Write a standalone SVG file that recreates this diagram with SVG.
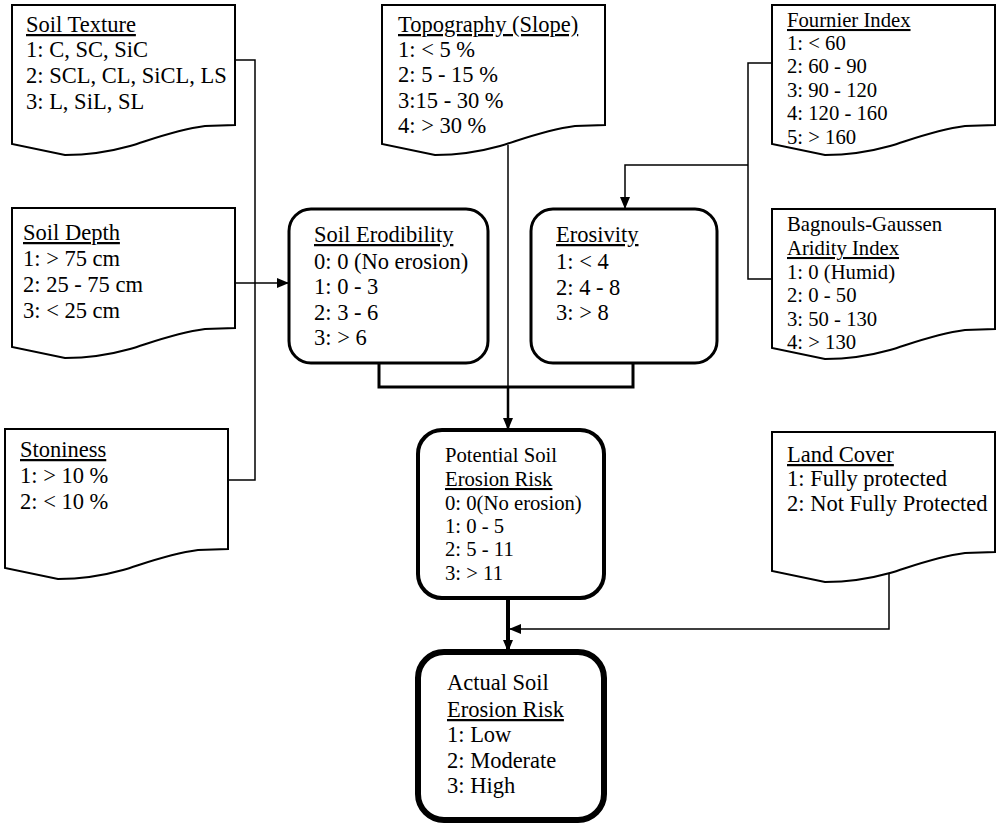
<svg xmlns="http://www.w3.org/2000/svg" xmlns:xlink="http://www.w3.org/1999/xlink" width="1000" height="827" viewBox="0 0 1000 827">
<defs>
<style>
text{font-family:"Liberation Serif","Times New Roman",serif;fill:#000}
.t21{font-size:22.5px}
.t20{font-size:20.7px}
.u{text-decoration:underline}
.doc{fill:#fff;stroke:#000;stroke-width:2}
.box{fill:#fff;stroke:#000}
.c{fill:none;stroke:#000;stroke-width:1.5}
</style>
<path id="doc" d="M0,0 H223 V120 L193,121 C163,125 138,135 118,141 C93,148 73,150 53,150 L0,139 Z"/>
<marker id="ah" viewBox="0 0 12 10" refX="12" refY="5" markerWidth="12" markerHeight="10" markerUnits="userSpaceOnUse" orient="auto">
<path d="M0,0 L12,5 L0,10 Z" fill="#000"/>
</marker>
</defs>
<rect width="1000" height="827" fill="#fff"/>

<g id="connectors">
<polyline class="c" points="234,60 255,60 255,480 228,480"/>
<line class="c" x1="235" y1="283" x2="289" y2="283" marker-end="url(#ah)"/>
<line class="c" x1="508" y1="145" x2="508" y2="388"/>
<line x1="508" y1="387" x2="508" y2="430" stroke="#000" stroke-width="2.5" marker-end="url(#ah)"/>
<polyline points="379,363 379,387 633,387 633,363" fill="none" stroke="#000" stroke-width="3"/>
<polyline class="c" points="772,63 748,63 748,279 772,279"/>
<polyline class="c" points="748,165 625,165 625,209" marker-end="url(#ah)"/>
<line x1="508" y1="598" x2="508" y2="652" stroke="#000" stroke-width="4" marker-end="url(#ah)"/>
<polyline class="c" points="889,568 889,629 509,629" marker-end="url(#ah)"/>
</g>

<g id="soil-texture">
<use xlink:href="#doc" class="doc" transform="translate(12,5)"/>
<text class="t21" x="26" y="32"><tspan class="u">Soil Texture</tspan></text>
<text class="t21" x="26" y="57">1: C, SC, SiC</text>
<text class="t21" x="26" y="83">2: SCL, CL, SiCL, LS</text>
<text class="t21" x="26" y="109">3: L, SiL, SL</text>
</g>

<g id="soil-depth">
<use xlink:href="#doc" class="doc" transform="translate(12,208)"/>
<text class="t21" x="23" y="240"><tspan class="u">Soil Depth</tspan></text>
<text class="t21" x="23" y="266">1: &gt; 75 cm</text>
<text class="t21" x="23" y="292">2: 25 - 75 cm</text>
<text class="t21" x="23" y="318">3: &lt; 25 cm</text>
</g>

<g id="stoniness">
<use xlink:href="#doc" class="doc" transform="translate(5,429)"/>
<text class="t21" x="20" y="457"><tspan class="u">Stoniness</tspan></text>
<text class="t21" x="20" y="483">1: &gt; 10 %</text>
<text class="t21" x="20" y="509">2: &lt; 10 %</text>
</g>

<g id="topography">
<use xlink:href="#doc" class="doc" transform="translate(382,5)"/>
<text class="t21" x="398" y="32"><tspan class="u">Topography (Slope)</tspan></text>
<text class="t21" x="398" y="57">1: &lt; 5 %</text>
<text class="t21" x="398" y="82">2: 5 - 15 %</text>
<text class="t21" x="398" y="108">3:15 - 30 %</text>
<text class="t21" x="398" y="133">4: &gt; 30 %</text>
</g>

<g id="fournier-index">
<use xlink:href="#doc" class="doc" transform="translate(772,5)"/>
<text class="t20" x="787" y="27"><tspan class="u">Fournier Index</tspan></text>
<text class="t20" x="787" y="50">1: &lt; 60</text>
<text class="t20" x="787" y="73">2: 60 - 90</text>
<text class="t20" x="787" y="97">3: 90 - 120</text>
<text class="t20" x="787" y="120">4: 120 - 160</text>
<text class="t20" x="787" y="144">5: &gt; 160</text>
</g>

<g id="aridity-index">
<use xlink:href="#doc" class="doc" transform="translate(772,209)"/>
<text class="t20" x="787" y="231">Bagnouls-Gaussen</text>
<text class="t20" x="787" y="255"><tspan class="u">Aridity Index</tspan></text>
<text class="t20" x="787" y="279">1: 0 (Humid)</text>
<text class="t20" x="787" y="302">2: 0 - 50</text>
<text class="t20" x="787" y="326">3: 50 - 130</text>
<text class="t20" x="787" y="349">4: &gt; 130</text>
</g>

<g id="land-cover">
<use xlink:href="#doc" class="doc" transform="translate(772,432)"/>
<text class="t21" x="787" y="462"><tspan class="u">Land Cover</tspan></text>
<text class="t21" x="787" y="486">1: Fully protected</text>
<text class="t21" x="787" y="511">2: Not Fully Protected</text>
</g>

<g id="soil-erodibility">
<rect class="box" x="289" y="209" width="199" height="154" rx="22" stroke-width="3"/>
<text class="t21" x="314" y="242"><tspan class="u">Soil Erodibility</tspan></text>
<text class="t21" x="314" y="269">0: 0 (No erosion)</text>
<text class="t21" x="314" y="294">1: 0 - 3</text>
<text class="t21" x="314" y="320">2: 3 - 6</text>
<text class="t21" x="314" y="345">3: &gt; 6</text>
</g>

<g id="erosivity">
<rect class="box" x="531" y="209" width="186" height="154" rx="22" stroke-width="3"/>
<text class="t21" x="556" y="242"><tspan class="u">Erosivity</tspan></text>
<text class="t21" x="556" y="269">1: &lt; 4</text>
<text class="t21" x="556" y="295">2: 4 - 8</text>
<text class="t21" x="556" y="320">3: &gt; 8</text>
</g>

<g id="potential-risk">
<rect class="box" x="418" y="430" width="186" height="168" rx="24" stroke-width="4"/>
<text class="t20" x="445" y="462">Potential Soil</text>
<text class="t20" x="445" y="486"><tspan class="u">Erosion Risk</tspan></text>
<text class="t20" x="445" y="510">0: 0(No erosion)</text>
<text class="t20" x="445" y="533">1: 0 - 5</text>
<text class="t20" x="445" y="556">2: 5 - 11</text>
<text class="t20" x="445" y="580">3: &gt; 11</text>
</g>

<g id="actual-risk">
<rect class="box" x="418" y="652" width="186" height="168" rx="26" stroke-width="6"/>
<text class="t21" x="447" y="690">Actual Soil</text>
<text class="t21" x="447" y="717"><tspan class="u">Erosion Risk</tspan></text>
<text class="t21" x="447" y="742">1: Low</text>
<text class="t21" x="447" y="768">2: Moderate</text>
<text class="t21" x="447" y="793">3: High</text>
</g>
</svg>
